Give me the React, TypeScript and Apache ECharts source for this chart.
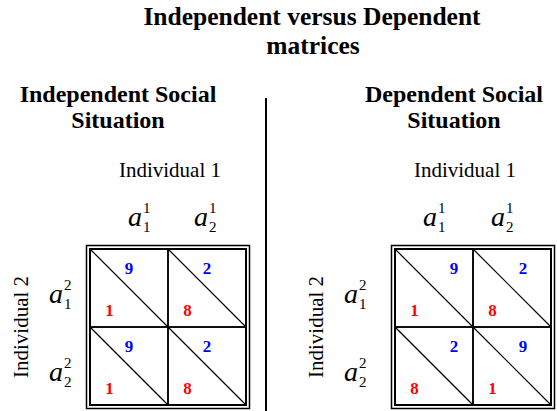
import React, { useEffect, useRef } from 'react';
import * as echarts from 'echarts';

// ---- data ----
const titleLines = ['Independent versus Dependent', 'matrices'];
const panelTitles = [
  ['Independent Social', 'Situation'],
  ['Dependent Social', 'Situation'],
];
const playerLabels = ['Individual 1', 'Individual 2'];
const colActions = [
  { sub: '1', sup: '1' },
  { sub: '2', sup: '1' },
];
const rowActions = [
  { sub: '1', sup: '2' },
  { sub: '2', sup: '2' },
];
const categories = ['a1', 'a2'];
// [row][col]
const independentBlue = [
  [9, 2],
  [9, 2],
];
const independentRed = [
  [1, 8],
  [1, 8],
];
const dependentBlue = [
  [9, 2],
  [2, 9],
];
const dependentRed = [
  [1, 8],
  [8, 1],
];

// ---- layout / style ----
const FAMILY = 'Liberation Serif';
const BLUE = '#0000ff';
const RED = '#ff0000';
const GRID_SIZE = 156;
const GRIDS = [
  { left: 90, top: 249 },
  { left: 395, top: 249 },
];
const BLUE_DX = [
  [0.5, 0.5],
  [0.756, 0.64],
];
const COL_HEAD_DX = [
  [13, 1],
  [3, -7],
];
const ROW_HEAD_DX = [-27, -37];
const PANEL_X = [118, 454];
const PLAYER1_X = [170, 465];
const PLAYER2_X = [21, 316];
const TITLE_SIZE = 25.5;

function toCells(blue: number[][], red: number[][]) {
  const out: number[][] = [];
  for (let r = 0; r < 2; r++) {
    for (let c = 0; c < 2; c++) {
      out.push([c, r, blue[r][c], red[r][c]]);
    }
  }
  return out;
}

function mid(baseline: number, size: number) {
  return baseline - 0.3375 * size;
}

function textStyle(text: string, x: number, y: number, opts: any) {
  const st: any = {
    text,
    x,
    y,
    fill: opts.fill || '#000',
    fontFamily: FAMILY,
    fontSize: opts.size,
    align: opts.align || 'center',
    verticalAlign: 'middle',
  };
  if (opts.weight) st.fontWeight = opts.weight;
  if (opts.style) st.fontStyle = opts.style;
  return st;
}

function textEl(text: string, x: number, y: number, opts: any) {
  return { type: 'text', style: textStyle(text, x, y, opts) };
}

function actionLabel(ax: number, baseY: number, sub: string, sup: string) {
  return [
    textEl('a', ax, mid(baseY, 28), { size: 28, style: 'italic', align: 'right' }),
    textEl(sup, ax + 1, baseY - 18, { size: 15, align: 'left' }),
    textEl(sub, ax + 1, baseY + 1, { size: 15, align: 'left' }),
  ];
}

const renderItem = (params: any, api: any) => {
  const m = params.seriesIndex;
  const col = api.value(0);
  const row = api.value(1);
  const blue = api.value(2);
  const red = api.value(3);
  const c = api.coord([col, row]);
  const s = api.size([1, 1]);
  const w = s[0];
  const h = s[1];
  const x = c[0] - w / 2;
  const y = c[1] - h / 2;
  const children: any[] = [
    {
      type: 'rect',
      shape: { x, y, width: w, height: h },
      style: { fill: 'none', stroke: '#000', lineWidth: 1.5 },
    },
    {
      type: 'line',
      shape: { x1: x, y1: y, x2: x + w, y2: y + h },
      style: { stroke: '#000', lineWidth: 1.2 },
    },
    textEl(String(blue), x + BLUE_DX[m][col] * w, y + 0.25 * h, {
      size: 17,
      weight: 'bold',
      fill: BLUE,
    }),
    textEl(String(red), x + 0.25 * w, y + 0.785 * h, {
      size: 17,
      weight: 'bold',
      fill: RED,
    }),
  ];
  if (row === 0) {
    const a = colActions[col];
    children.push(...actionLabel(c[0] + COL_HEAD_DX[m][col], y - 23, a.sub, a.sup));
  }
  if (col === 0) {
    const a = rowActions[row];
    children.push(...actionLabel(x + ROW_HEAD_DX[m], c[1] + 15, a.sub, a.sup));
  }
  return { type: 'group', children };
};

export default function App() {
  const ref = useRef<HTMLDivElement>(null);
  useEffect(() => {
    document.body.style.margin = '0';
    if (!ref.current) return;
    const chart = echarts.init(ref.current, undefined, { renderer: 'svg' });

    const graphics: any[] = [];
    graphics.push(textEl(titleLines[0], 312, mid(25, TITLE_SIZE), { size: TITLE_SIZE, weight: 'bold' }));
    graphics.push(textEl(titleLines[1], 313, mid(54, TITLE_SIZE), { size: TITLE_SIZE, weight: 'bold' }));
    for (let m = 0; m < 2; m++) {
      graphics.push(textEl(panelTitles[m][0], PANEL_X[m], mid(102, 24), { size: 24, weight: 'bold' }));
      graphics.push(textEl(panelTitles[m][1], PANEL_X[m], mid(128, 24), { size: 24, weight: 'bold' }));
      graphics.push(textEl(playerLabels[0], PLAYER1_X[m], mid(177, 21), { size: 21 }));
      graphics.push({
        type: 'text',
        x: PLAYER2_X[m],
        y: 327,
        rotation: Math.PI / 2,
        style: textStyle(playerLabels[1], 0, 0, { size: 21 }),
      });
      const g = GRIDS[m];
      graphics.push({
        type: 'rect',
        shape: { x: g.left - 3.5, y: g.top - 3.5, width: GRID_SIZE + 7, height: GRID_SIZE + 7 },
        style: { fill: 'none', stroke: '#000', lineWidth: 1.5 },
      });
    }
    graphics.push({
      type: 'line',
      shape: { x1: 266, y1: 98, x2: 266, y2: 411 },
      style: { stroke: '#000', lineWidth: 2 },
    });

    const option: any = {
      animation: false,
      grid: GRIDS.map((g) => ({
        left: g.left,
        top: g.top,
        width: GRID_SIZE,
        height: GRID_SIZE,
        show: true,
        borderColor: '#000',
        borderWidth: 2,
        backgroundColor: 'transparent',
      })),
      xAxis: GRIDS.map((_, i) => ({
        type: 'category',
        gridIndex: i,
        data: categories,
        boundaryGap: true,
        show: false,
      })),
      yAxis: GRIDS.map((_, i) => ({
        type: 'category',
        gridIndex: i,
        data: categories,
        inverse: true,
        boundaryGap: true,
        show: false,
      })),
      series: [
        {
          type: 'custom',
          xAxisIndex: 0,
          yAxisIndex: 0,
          silent: true,
          renderItem,
          data: toCells(independentBlue, independentRed),
        },
        {
          type: 'custom',
          xAxisIndex: 1,
          yAxisIndex: 1,
          silent: true,
          renderItem,
          data: toCells(dependentBlue, dependentRed),
        },
      ],
      graphic: graphics,
    };
    chart.setOption(option);
    return () => chart.dispose();
  }, []);
  return (
    <div
      ref={ref}
      style={{ position: 'absolute', left: 0, top: 0, width: 557, height: 411 }}
    />
  );
}
